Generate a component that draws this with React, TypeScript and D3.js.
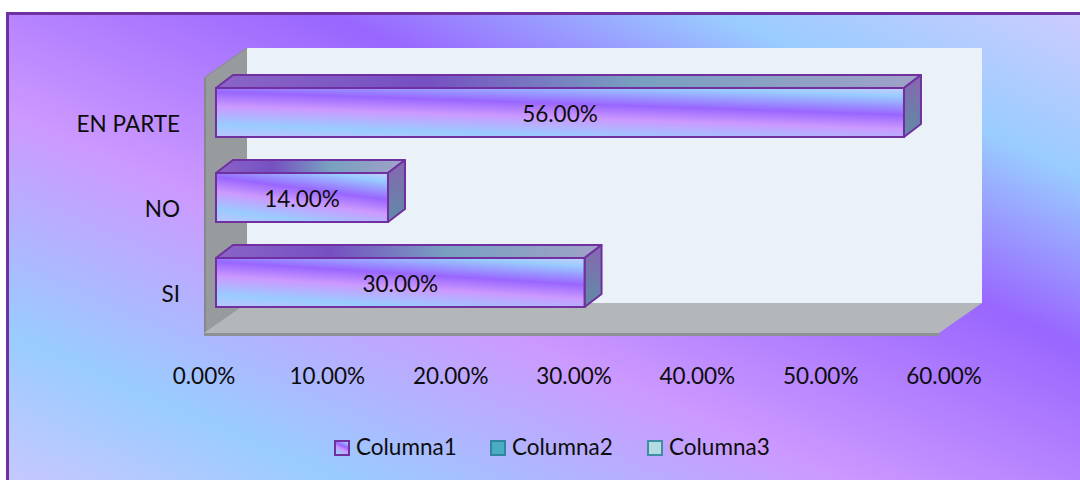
import React from "react";
import * as d3 from "d3";

const categories = ["EN PARTE", "NO", "SI"];
const values = [56, 14, 30];
const tickValues = [0, 10, 20, 30, 40, 50, 60];
const seriesNames = ["Columna1", "Columna2", "Columna3"];

const FONT = "Lato, 'Open Sans', sans-serif";

export default function App() {
  const W = 1080;
  const H = 480;

  // wall (back plane) scale and depth offset
  const xWall = d3.scaleLinear().domain([0, 60]).range([247, 982]);
  const wallTop = 48;
  const wallBottom = 303;
  const wdx = -43;
  const wdy = 30;

  // bars
  const xBar = d3.scaleLinear().domain([0, 60]).range([216, 953.1]);
  const yBand = d3
    .scaleBand<string>()
    .domain(categories)
    .range([70, 325])
    .paddingInner(0.4235)
    .paddingOuter(0.21175);
  const bdx = 17;
  const bdy = -13;

  const xLabel = d3.scaleLinear().domain([0, 60]).range([204, 944]);
  const fmt = (v: number) => d3.format(".2f")(v) + "%";

  const pts = (arr: number[][]) => arr.map((p) => p.join(",")).join(" ");

  const wl = xWall(0);
  const wr = xWall(60);

  const legendX = [334, 490, 647];
  const legendFill = ["url(#barFront)", "#4BACC6", "#B4DAE2"];
  const legendStroke = ["#7030A0", "#31859C", "#3E8FA6"];

  return (
    <svg
      width={W}
      height={H}
      style={{ position: "absolute", left: 0, top: 0, background: "#fff" }}
      fontFamily={FONT}
    >
      <defs>
        <linearGradient
          id="bg"
          gradientUnits="userSpaceOnUse"
          x1={169.6}
          y1={-385.4}
          x2={-173.3}
          y2={393.8}
        >
          <stop offset="0.011" stopColor="#C8CCFF" />
          <stop offset="0.172" stopColor="#99CCFF" />
          <stop offset="0.356" stopColor="#9966FF" />
          <stop offset="0.613" stopColor="#CC99FF" />
          <stop offset="0.849" stopColor="#99CCFF" />
          <stop offset="0.995" stopColor="#C3C8FF" />
        </linearGradient>
        <linearGradient id="barFront" x1={0.181} y1={-0.385} x2={-0.385} y2={0.819}>
          <stop offset="0" stopColor="#C8CCFF" />
          <stop offset="0.116" stopColor="#99CCFF" />
          <stop offset="0.374" stopColor="#9966FF" />
          <stop offset="0.571" stopColor="#CC99FF" />
          <stop offset="0.83" stopColor="#99CCFF" />
          <stop offset="1" stopColor="#BFC4FF" />
        </linearGradient>
        <linearGradient id="barTop" x1={0} y1={0} x2={1} y2={0}>
          <stop offset="0" stopColor="#8A64C6" />
          <stop offset="0.3" stopColor="#7650C2" />
          <stop offset="0.6" stopColor="#78A0C0" />
          <stop offset="1" stopColor="#A0A2C8" />
        </linearGradient>
        <linearGradient id="barSide" x1={0} y1={0} x2={0} y2={1}>
          <stop offset="0" stopColor="#8766B0" />
          <stop offset="1" stopColor="#5F8CA6" />
        </linearGradient>
      </defs>

      {/* chart area background with frame */}
      <rect
        x={7.5}
        y={13.5}
        width={W + 10}
        height={H + 10}
        fill="url(#bg)"
        stroke="#7030A0"
        strokeWidth={3}
      />

      {/* back wall */}
      <rect x={wl} y={wallTop} width={wr - wl} height={wallBottom - wallTop} fill="#EAF1F8" />

      {/* left side wall */}
      <polygon
        points={pts([
          [wl, wallTop],
          [wl + wdx, wallTop + wdy],
          [wl + wdx, wallBottom + wdy + 3],
          [wl, wallBottom],
        ])}
        fill="#979B9D"
      />
      <line
        x1={wl + wdx + 1}
        y1={wallTop + wdy}
        x2={wl + wdx + 1}
        y2={wallBottom + wdy + 3}
        stroke="#85898B"
        strokeWidth={2}
      />
      <line x1={wl} y1={wallTop} x2={wl + wdx} y2={wallTop + wdy} stroke="#8C9092" strokeWidth={1.5} />

      {/* floor */}
      <polygon
        points={pts([
          [wl, wallBottom],
          [wr, wallBottom],
          [wr + wdx, wallBottom + wdy],
          [wl + wdx, wallBottom + wdy],
        ])}
        fill="#B3B7B9"
      />
      <rect
        x={wl + wdx}
        y={wallBottom + wdy}
        width={wr - wl}
        height={3}
        fill="#8E9193"
      />

      {/* bars */}
      {categories.map((c, i) => {
        const y0 = yBand(c)!;
        const y1 = y0 + yBand.bandwidth();
        const x0 = xBar(0);
        const x1 = xBar(values[i]);
        const cy = (y0 + y1) / 2;
        return (
          <g key={c}>
            <polygon
              points={pts([
                [x0, y0],
                [x0 + bdx, y0 + bdy],
                [x1 + bdx, y0 + bdy],
                [x1, y0],
              ])}
              fill="url(#barTop)"
              stroke="#7030A0"
              strokeWidth={2}
              strokeLinejoin="round"
            />
            <polygon
              points={pts([
                [x1, y0],
                [x1 + bdx, y0 + bdy],
                [x1 + bdx, y1 + bdy],
                [x1, y1],
              ])}
              fill="url(#barSide)"
              stroke="#7030A0"
              strokeWidth={2}
              strokeLinejoin="round"
            />
            <rect
              x={x0}
              y={y0}
              width={x1 - x0}
              height={y1 - y0}
              fill="url(#barFront)"
              stroke="#7030A0"
              strokeWidth={2}
            />
            <text
              x={(x0 + x1) / 2}
              y={cy + 9}
              textAnchor="middle"
              fontSize={22.5}
              fill="#0D0D0D"
            >
              {fmt(values[i])}
            </text>
            <text x={180} y={cy + 19} textAnchor="end" fontSize={22.5} fill="#0D0D0D">
              {c}
            </text>
          </g>
        );
      })}

      {/* x axis tick labels */}
      {tickValues.map((t) => (
        <text key={t} x={xLabel(t)} y={384} textAnchor="middle" fontSize={22.5} fill="#0D0D0D">
          {fmt(t)}
        </text>
      ))}

      {/* legend */}
      {seriesNames.map((s, i) => (
        <g key={s}>
          <rect
            x={legendX[i] + 1}
            y={441}
            width={14}
            height={14}
            fill={legendFill[i]}
            stroke={legendStroke[i]}
            strokeWidth={2}
          />
          <text x={legendX[i] + 22} y={455} fontSize={22.5} fill="#0D0D0D">
            {s}
          </text>
        </g>
      ))}
    </svg>
  );
}
